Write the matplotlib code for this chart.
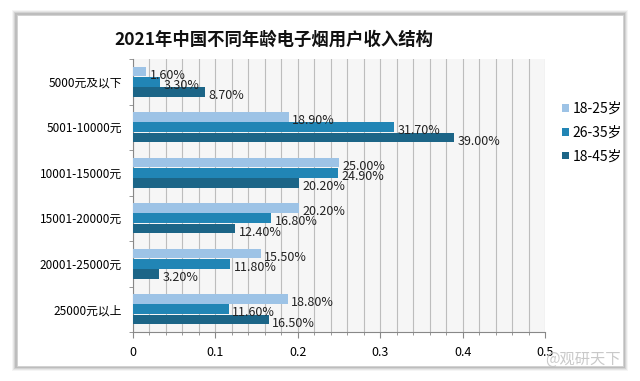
import numpy as np
import matplotlib.pyplot as plt
import matplotlib
from matplotlib.patches import Rectangle

plt.rcParams['font.family'] = ['Noto Sans CJK SC', 'DejaVu Sans']

categories = ['5000元及以下', '5001-10000元', '10001-15000元',
              '15001-20000元', '20001-25000元', '25000元以上']
series_names = ['18-25岁', '26-35岁', '18-45岁']
age_18_25 = [1.6, 18.9, 25.0, 20.2, 15.5, 18.8]
age_26_35 = [3.3, 31.7, 24.9, 16.8, 11.8, 11.6]
age_18_45 = [8.7, 39.0, 20.2, 12.4, 3.2, 16.5]
colors = ['#9dc3e6', '#2185b5', '#1c6587']

fig = plt.figure(figsize=(6.4, 3.81), dpi=100)
fig.patch.set_facecolor('white')

# card with soft shadow
W, H = 640.0, 381.0
for i, a in enumerate([0.04, 0.06, 0.08, 0.10]):
    d = 5 - i
    fig.patches.append(Rectangle(((17 - d) / W, (H - 366 - d) / H), (606 + 2 * d) / W, (351 + 2 * d) / H,
                                 transform=fig.transFigure, facecolor='black', alpha=a,
                                 edgecolor='none', zorder=-10))
fig.patches.append(Rectangle((17 / W, (H - 366) / H), 606 / W, 351 / H,
                             transform=fig.transFigure, facecolor='white', edgecolor='#d0d0d0',
                             lw=0.6, zorder=-9))

ax = fig.add_axes([133 / W, 1 - 332 / H, 412 / W, 273 / H])
ax.set_zorder(1)
ax.set_facecolor('#f6f6f6')

n = len(categories)
y = np.arange(n)
h = 0.215
data = [age_18_25, age_26_35, age_18_45]
for k, vals in enumerate(data):
    vals = np.array(vals) / 100
    pos = y + (k - 1) * (h + 0.01)
    ax.barh(pos, vals, height=h, color=colors[k], label=series_names[k], zorder=3)
    for p, v, raw in zip(pos, vals, data[k]):
        ax.text(v + 0.004, p + 0.08, '%.2f%%' % raw, fontsize=9, va='center', ha='left',
                color='#222222', zorder=4)

ax.set_xlim(0, 0.5)
ax.set_ylim(n - 0.5, -0.5)
ax.set_xticks([0, 0.1, 0.2, 0.3, 0.4, 0.5])
ax.set_xticklabels(['0', '0.1', '0.2', '0.3', '0.4', '0.5'], fontsize=9)
ax.set_xticks(np.arange(0, 0.501, 0.02), minor=True)
ax.grid(axis='x', which='both', color='#bdbdbd', lw=0.8, zorder=1)
ax.set_axisbelow(True)
ax.set_yticks(y)
ax.set_yticklabels(categories, fontsize=8.5)
ax.set_yticks(np.arange(-0.5, n, 1), minor=True)
ax.tick_params(axis='y', which='major', length=0, pad=8)
ax.tick_params(axis='y', which='minor', length=3, color='#888888')
ax.tick_params(axis='x', which='major', length=4, color='#888888', pad=6)
ax.tick_params(axis='x', which='minor', length=2, color='#888888')
for s in ['top', 'right']:
    ax.spines[s].set_visible(False)
for s in ['left', 'bottom']:
    ax.spines[s].set_color('#888888')

fig.text(274 / W, 1 - 40 / H, '2021年中国不同年龄电子烟用户收入结构', fontsize=12.5,
         fontweight='bold', ha='center', va='center', color='#111111')

ax.legend(loc='center left', bbox_to_anchor=(1.01, 0.73), frameon=False, fontsize=10,
          handlelength=0.5, handleheight=0.5, handletextpad=0.3, labelspacing=0.7)

fig.text(621 / W, 1 - 359 / H, '@观研天下', fontsize=11, ha='right', va='center',
         color='#c4c4c4', alpha=0.9)

plt.savefig('out.png', dpi=100)
